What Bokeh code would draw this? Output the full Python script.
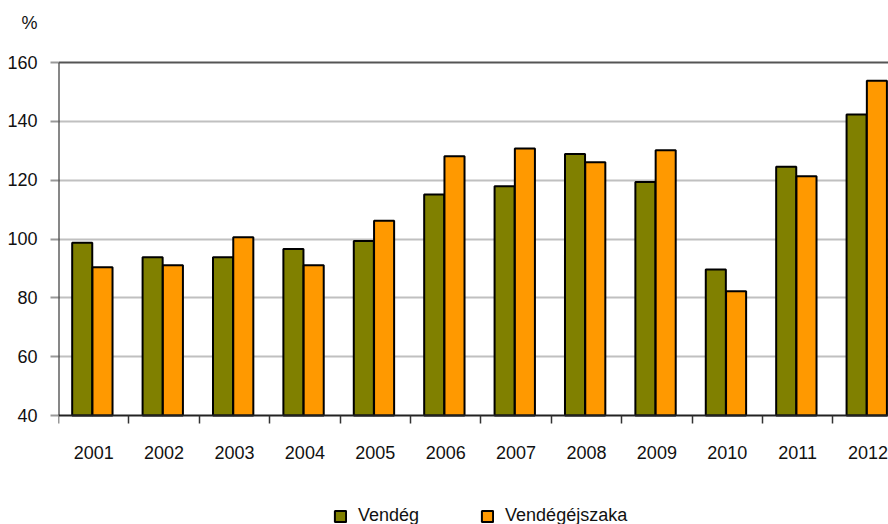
from bokeh.plotting import figure
from bokeh.models import (Range1d, FixedTicker, ColumnDataSource, Legend, LegendItem, Span, LinearAxis)
from bokeh.transform import dodge
from bokeh.embed import file_html
from bokeh.resources import INLINE

years = ["2001", "2002", "2003", "2004", "2005", "2006", "2007", "2008", "2009", "2010", "2011", "2012"]
vendeg = [98.7, 93.8, 93.8, 96.6, 99.3, 115.1, 117.9, 128.9, 119.4, 89.6, 124.6, 142.3]
vendegejszaka = [90.4, 91.1, 100.6, 91.1, 106.2, 128.1, 130.8, 126.1, 130.2, 82.2, 121.3, 153.8]
y_ticks = [40, 60, 80, 100, 120, 140, 160]
y_min, y_max = 40, 160
unit_label = "%"

FONT = "Liberation Sans"
FS = "18px"
GREEN = "#808000"
ORANGE = "#FF9900"

W, H = 888, 524
LEFT, TOP = 58, 62
PLOT_BOTTOM_PX = 415           # pixel row of the 40 baseline
px_per_unit = (PLOT_BOTTOM_PX - TOP) / (y_max - y_min)
y_start = y_min - (H - PLOT_BOTTOM_PX) / px_per_unit
y_end = y_max + TOP / px_per_unit
unit_pos = float(round(y_max + (TOP - 23) / px_per_unit, 2))

idx = list(range(len(years)))
src = ColumnDataSource(dict(x=idx, v1=vendeg, v2=vendegejszaka))

p = figure(width=W, height=H, output_backend="svg", toolbar_location=None,
           x_range=Range1d(-0.5, 11.29), y_range=Range1d(y_start, y_end),
           x_axis_location=None, y_axis_location=None,
           min_border_left=LEFT, min_border_right=0, min_border_top=0, min_border_bottom=0)
p.outline_line_color = None
p.background_fill_color = "white"
p.border_fill_color = "white"

r1 = p.vbar(x=dodge("x", -0.163, range=p.x_range), top="v1", bottom=y_min, width=0.285, source=src,
            fill_color=GREEN, line_color="black", line_width=2)
r2 = p.vbar(x=dodge("x", 0.125, range=p.x_range), top="v2", bottom=y_min, width=0.285, source=src,
            fill_color=ORANGE, line_color="black", line_width=2)

# x axis pinned to the 40 baseline
xa = LinearAxis(fixed_location=y_min)
xa.ticker = FixedTicker(ticks=idx, minor_ticks=[i - 0.5 for i in range(len(years) + 1)])
xa.major_label_overrides = {i: y for i, y in zip(idx, years)}
xa.major_tick_out = 0
xa.major_tick_in = 0
xa.minor_tick_out = 8
xa.minor_tick_in = 0
xa.minor_tick_line_color = "#333333"
xa.minor_tick_line_width = 1.5
xa.axis_line_color = "#222222"
xa.axis_line_width = 2
xa.major_label_standoff = 22
xa.major_label_text_font = FONT
xa.major_label_text_font_size = FS
xa.major_label_text_color = "#111111"
p.add_layout(xa, "below")

# y axis: labels (incl. the "%" unit on top), gray tick marks as minor ticks
ya = LinearAxis()
ya.ticker = FixedTicker(ticks=y_ticks + [unit_pos], minor_ticks=y_ticks)
ya.major_label_overrides = {unit_pos: unit_label}
ya.axis_line_color = None
ya.major_tick_out = 0
ya.major_tick_in = 0
ya.major_tick_line_color = None
ya.minor_tick_out = 8
ya.minor_tick_in = 0
ya.minor_tick_line_color = "#999999"
ya.minor_tick_line_width = 2
ya.major_label_standoff = 13
ya.major_label_text_font = FONT
ya.major_label_text_font_size = FS
ya.major_label_text_color = "#111111"
p.add_layout(ya, "left")

# y axis line limited to the value span
yl = LinearAxis(fixed_location=-0.5, bounds=(y_min, y_max))
yl.ticker = FixedTicker(ticks=[])
yl.axis_line_color = "#111111"
yl.axis_line_width = 2
yl.major_tick_line_color = None
yl.minor_tick_line_color = None
p.add_layout(yl, "left")

p.xgrid.visible = False
p.ygrid.ticker = FixedTicker(ticks=y_ticks[1:-1])
p.ygrid.grid_line_color = "#c0c0c0"
p.ygrid.grid_line_width = 2

p.add_layout(Span(location=y_max, dimension="width", line_color="#555555", line_width=2))

legend = Legend(items=[LegendItem(label="Vendég", renderers=[r1]),
                       LegendItem(label="Vendégéjszaka", renderers=[r2])],
                location=(275, -2), orientation="horizontal",
                glyph_width=14, glyph_height=14, label_standoff=11, spacing=61,
                padding=0, margin=0, border_line_color=None, background_fill_alpha=0,
                label_text_font=FONT, label_text_font_size=FS, label_text_color="#111111")
p.add_layout(legend, "center")

open("out.html", "w").write(file_html(p, INLINE))
